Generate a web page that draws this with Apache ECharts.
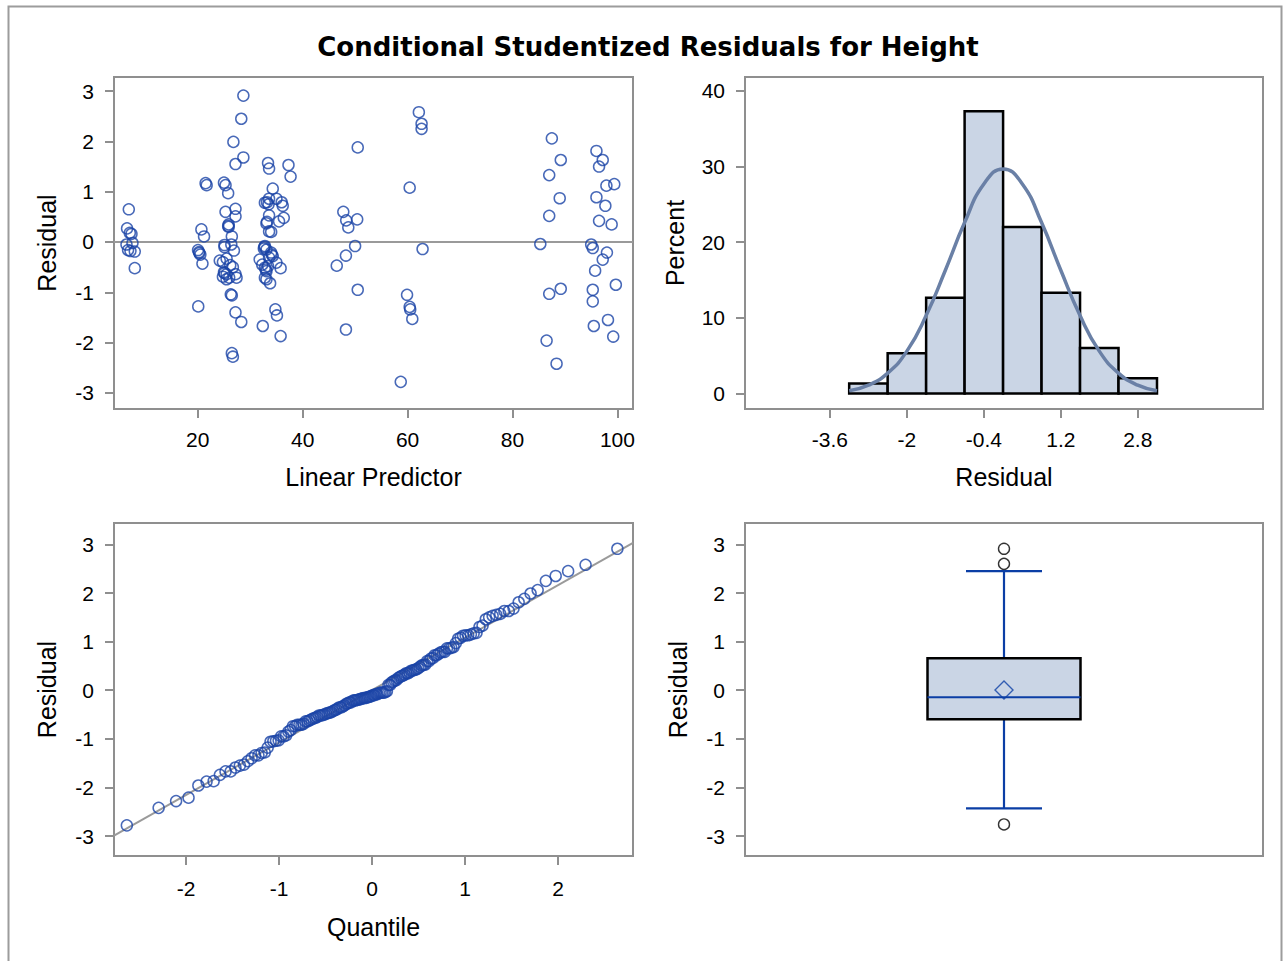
<!DOCTYPE html>
<html>
<head>
<meta charset="utf-8">
<script src="https://cdn.jsdelivr.net/npm/echarts@6/dist/echarts.min.js"></script>
<style>
html,body{margin:0;padding:0;background:#fff;}
#chart{width:1285px;height:961px;}
</style>
</head>
<body>
<div id="chart"></div>
<script>
// ---------- DATA ----------
const predictor = [
  6.86,6.53,7.05,7.37,6.42,7.56,6.72,7.18,8.0,8.0,
  21.5,21.7,20.7,21.2,20.06,20.25,20.5,20.9,20.1,20.3,
  28.7,28.3,26.8,28.7,27.2,25.0,25.3,25.8,27.2,25.3,27.2,25.9,25.9,26.5,25.1,25.1,26.9,24.2,24.8,25.5,
  26.2,26.7,25.0,25.5,24.8,25.5,26.0,27.2,27.4,26.3,26.5,27.2,28.3,26.5,26.7,25.1,25.8,26.4,
  33.4,33.6,37.3,37.7,34.3,32.8,33.2,33.6,35.0,36.0,36.2,33.6,33.1,33.6,35.5,36.4,32.8,33.1,32.6,34.0,
  34.3,33.6,35.0,35.8,31.8,32.3,32.8,33.1,33.4,32.8,33.1,33.8,34.8,35.1,32.4,35.8,33.0,34.1,32.7,33.5,34.0,33.2,
  50.5,47.75,48.3,48.7,50.4,50.0,48.25,46.5,50.5,48.25,
  62.15,62.67,62.67,60.4,62.86,59.9,60.4,60.5,60.9,58.7,
  87.5,89.2,87.0,89.0,87.0,85.3,87.0,89.2,86.5,88.4,
  96.0,97.2,96.5,97.9,99.4,96.0,97.7,96.5,98.9,95.0,95.3,98.0,97.2,95.75,99.7,95.3,95.3,98.2,95.5,99.2
];
const residual = [
  0.65,0.27,0.18,0.16,-0.05,-0.02,-0.16,-0.18,-0.19,-0.52,
  1.17,1.13,0.25,0.11,-0.16,-0.2,-0.25,-0.43,-1.28,-0.22,
  2.91,2.45,1.99,1.68,1.55,1.18,1.13,0.97,0.66,0.6,0.51,0.35,0.3,0.11,-0.06,-0.1,-0.17,-0.37,-0.4,-0.33,
  -0.46,-0.5,-0.6,-0.64,-0.69,-0.74,-0.71,-0.64,-0.71,-1.04,-1.06,-1.4,-1.59,-2.21,-2.28,-0.62,0.32,-0.05,
  1.57,1.46,1.53,1.3,1.06,0.78,0.79,0.86,0.86,0.79,0.72,0.53,0.37,0.21,0.41,0.48,-0.08,-0.15,-0.13,-0.21,
  -0.28,-0.31,-0.41,-0.52,-0.35,-0.45,-0.51,-0.58,-0.48,-0.71,-0.74,-0.82,-1.34,-1.46,-1.67,-1.87,-0.55,-0.25,-0.1,0.75,0.2,0.4,
  1.88,0.6,0.43,0.29,0.45,-0.08,-0.27,-0.47,-0.95,-1.74,
  2.58,2.35,2.25,1.08,-0.14,-1.05,-1.29,-1.34,-1.53,-2.78,
  2.06,1.63,1.33,0.87,0.52,-0.04,-1.03,-0.93,-1.96,-2.42,
  1.81,1.63,1.5,1.12,1.15,0.89,0.72,0.42,0.35,-0.05,-0.12,-0.21,-0.35,-0.57,-0.85,-0.95,-1.18,-1.55,-1.67,-1.88
];
const histCenters = [-2.8,-2.0,-1.2,-0.4,0.4,1.2,2.0,2.8];
const histPercent = [1.333,5.333,12.667,37.333,22.0,13.333,6.0,2.0];
const binWidth = 0.8;
const curveX = [-3.2,-2.8,-2.4,-2.0,-1.6,-1.2,-0.8,-0.4,0,0.4,0.8,1.2,1.6,2.0,2.4,2.8,3.2];
const curvePercent = [0.35,1.1,2.7,5.6,10.3,16.3,22.6,27.7,29.7,27.7,22.6,16.3,10.3,5.6,2.7,1.1,0.35];
const qqLineX = [-2.777, 2.807];
const qqLineY = [-2.99, 3.03];
const boxStats = [-2.43, -0.598, -0.144, 0.66, 2.45]; // low whisker, Q1, median, Q3, high whisker
const boxMean = [0.006];
const boxOutliers = [2.91, 2.60, -2.76];
const predTicks = [20,40,60,80,100];
const residTicks = [-3,-2,-1,0,1,2,3];
const histXTicks = [-3.6,-2,-0.4,1.2,2.8];
const histYTicks = [0,10,20,30,40];
const quantTicks = [-2,-1,0,1,2];

// ---------- helpers ----------
function normInv(p){
  const a=[-3.969683028665376e+01,2.209460984245205e+02,-2.759285104469687e+02,1.383577518672690e+02,-3.066479806614716e+01,2.506628277459239e+00];
  const b=[-5.447609879822406e+01,1.615858368580409e+02,-1.556989798598866e+02,6.680131188771972e+01,-1.328068155288572e+01];
  const c=[-7.784894002430293e-03,-3.223964580411365e-01,-2.400758277161838e+00,-2.549732539343734e+00,4.374664141464968e+00,2.938163982698783e+00];
  const d=[7.784695709041462e-03,3.224671290700398e-01,2.445134137142996e+00,3.754408661907416e+00];
  const pl=0.02425, ph=1-pl; let q,r;
  if(p<pl){q=Math.sqrt(-2*Math.log(p));return (((((c[0]*q+c[1])*q+c[2])*q+c[3])*q+c[4])*q+c[5])/((((d[0]*q+d[1])*q+d[2])*q+d[3])*q+1);}
  if(p<=ph){q=p-0.5;r=q*q;return (((((a[0]*r+a[1])*r+a[2])*r+a[3])*r+a[4])*r+a[5])*q/(((((b[0]*r+b[1])*r+b[2])*r+b[3])*r+b[4])*r+1);}
  q=Math.sqrt(-2*Math.log(1-p));return -(((((c[0]*q+c[1])*q+c[2])*q+c[3])*q+c[4])*q+c[5])/((((d[0]*q+d[1])*q+d[2])*q+d[3])*q+1);
}
const n = residual.length;
const sortedRes = residual.slice().sort((x,y)=>x-y);
const qqData = sortedRes.map((v,i)=>[normInv((i+1-0.375)/(n+0.25)), v]);
const scatterData = predictor.map((x,i)=>[x, residual[i]]);
const histData = histCenters.map((c,i)=>[c, histPercent[i]]);
const curveData = curveX.map((x,i)=>[x, curvePercent[i]]);
const qqLineData = qqLineX.map((x,i)=>[x, qqLineY[i]]);

// ---------- styles ----------
const FONT = '"Liberation Sans", Arial, sans-serif';
const TITLE_FONT = '"DejaVu Sans", "Liberation Sans", sans-serif';
const AX = '#8f8f8f';
const BLUE = '#1a43a6';
const FILL = '#cad5e5';
const tickFont = 21, nameFont = 25;

function valAxis(gi, min, max, ticks, name, nameGap, margin){
  return {
    type:'value', gridIndex:gi, min:min, max:max,
    name:name, nameLocation:'middle', nameGap:nameGap,
    nameTextStyle:{fontFamily:FONT, fontSize:nameFont, color:'#000'},
    axisLine:{show:false, onZero:false},
    axisTick:{show:true, length:9, inside:false, lineStyle:{color:AX, width:2}, customValues:ticks},
    axisLabel:{show:true, margin:margin||20, fontFamily:FONT, fontSize:tickFont, color:'#000', customValues:ticks},
    splitLine:{show:false}
  };
}
const gridBase = {show:true, borderColor:AX, borderWidth:2, backgroundColor:'#fff', containLabel:false};

const chart = echarts.init(document.getElementById('chart'), null, {renderer:'svg'});
chart.setOption({
  animation:false,
  backgroundColor:'#fff',
  graphic:[
    {type:'rect', shape:{x:8.5, y:6.5, width:1273, height:1000}, style:{fill:'none', stroke:'#9c9c9c', lineWidth:2}, silent:true, z:-10},
    {type:'text', x:648, y:47, style:{text:'Conditional Studentized Residuals for Height', font:'bold 26px '+TITLE_FONT, fill:'#000', textAlign:'center', textVerticalAlign:'middle'}, silent:true}
  ],
  grid:[
    Object.assign({left:114, top:77, width:519, height:332}, gridBase),
    Object.assign({left:745, top:77, width:518, height:332}, gridBase),
    Object.assign({left:114, top:523, width:519, height:333}, gridBase),
    Object.assign({left:745, top:523, width:518, height:333}, gridBase)
  ],
  xAxis:[
    valAxis(0, 4.04, 102.97, predTicks, 'Linear Predictor', 55, 20),
    valAxis(1, -5.366, 5.404, histXTicks, 'Residual', 55, 20),
    valAxis(2, -2.777, 2.807, quantTicks, 'Quantile', 58, 22),
    {type:'category', gridIndex:3, data:[''], show:false}
  ],
  yAxis:[
    valAxis(0, -3.32, 3.28, residTicks, 'Residual', 55),
    valAxis(1, -2.05, 41.85, histYTicks, 'Percent', 58),
    valAxis(2, -3.41, 3.44, residTicks, 'Residual', 55),
    valAxis(3, -3.41, 3.44, residTicks, 'Residual', 55)
  ],
  series:[
    {
      type:'scatter', xAxisIndex:0, yAxisIndex:0, data:scatterData,
      symbol:'circle', symbolSize:11,
      itemStyle:{color:'rgba(255,255,255,0)', borderColor:BLUE, borderWidth:1.5},
      markLine:{silent:true, symbol:'none', label:{show:false}, z:1,
        lineStyle:{color:'#9a9a9a', width:2, type:'solid'}, data:[{yAxis:0}]},
      z:3
    },
    {
      type:'custom', xAxisIndex:1, yAxisIndex:1, data:histData,
      encode:{x:0, y:1},
      renderItem:function(params, api){
        const c = api.value(0), v = api.value(1);
        const p0 = api.coord([c - binWidth/2, v]);
        const p1 = api.coord([c + binWidth/2, 0]);
        return {type:'rect', shape:{x:p0[0], y:p0[1], width:p1[0]-p0[0], height:p1[1]-p0[1]},
          style:{fill:FILL, stroke:'#000', lineWidth:2.5}};
      },
      z:2
    },
    {
      type:'line', xAxisIndex:1, yAxisIndex:1, data:curveData, smooth:true,
      showSymbol:false, symbol:'none',
      lineStyle:{color:'#6a80a6', width:3.5}, z:4
    },
    {
      type:'line', xAxisIndex:2, yAxisIndex:2, data:qqLineData,
      showSymbol:false, symbol:'none', lineStyle:{color:'#9a9a9a', width:2}, z:2
    },
    {
      type:'scatter', xAxisIndex:2, yAxisIndex:2, data:qqData,
      symbol:'circle', symbolSize:11,
      itemStyle:{color:'rgba(255,255,255,0)', borderColor:BLUE, borderWidth:1.5}, z:3
    },
    {
      type:'custom', xAxisIndex:3, yAxisIndex:3, data:[[0].concat(boxStats)],
      renderItem:function(params, api){
        const lw = api.coord([0, api.value(1)]);
        const q1 = api.coord([0, api.value(2)]);
        const md = api.coord([0, api.value(3)]);
        const q3 = api.coord([0, api.value(4)]);
        const uw = api.coord([0, api.value(5)]);
        const cx = lw[0], hw = 76.5, cw = 38;
        const ls = {stroke:'#0b3ea5', lineWidth:2.2};
        return {type:'group', children:[
          {type:'line', shape:{x1:cx, y1:q3[1], x2:cx, y2:uw[1]}, style:ls},
          {type:'line', shape:{x1:cx, y1:q1[1], x2:cx, y2:lw[1]}, style:ls},
          {type:'line', shape:{x1:cx-cw, y1:uw[1], x2:cx+cw, y2:uw[1]}, style:ls},
          {type:'line', shape:{x1:cx-cw, y1:lw[1], x2:cx+cw, y2:lw[1]}, style:ls},
          {type:'rect', shape:{x:cx-hw, y:q3[1], width:2*hw, height:q1[1]-q3[1]}, style:{fill:FILL, stroke:'#000', lineWidth:2.5}},
          {type:'line', shape:{x1:cx-hw, y1:md[1], x2:cx+hw, y2:md[1]}, style:ls}
        ]};
      },
      z:2
    },
    {
      type:'scatter', xAxisIndex:3, yAxisIndex:3, data:boxMean.map(v=>[0,v]),
      symbol:'diamond', symbolSize:[18,18],
      itemStyle:{color:'rgba(255,255,255,0)', borderColor:'#0b3ea5', borderWidth:1.4}, z:4
    },
    {
      type:'scatter', xAxisIndex:3, yAxisIndex:3, data:boxOutliers.map(v=>[0,v]),
      symbol:'circle', symbolSize:11,
      itemStyle:{color:'rgba(255,255,255,0)', borderColor:'#000', borderWidth:1.4}, z:4
    }
  ]
});
</script>
</body>
</html>
